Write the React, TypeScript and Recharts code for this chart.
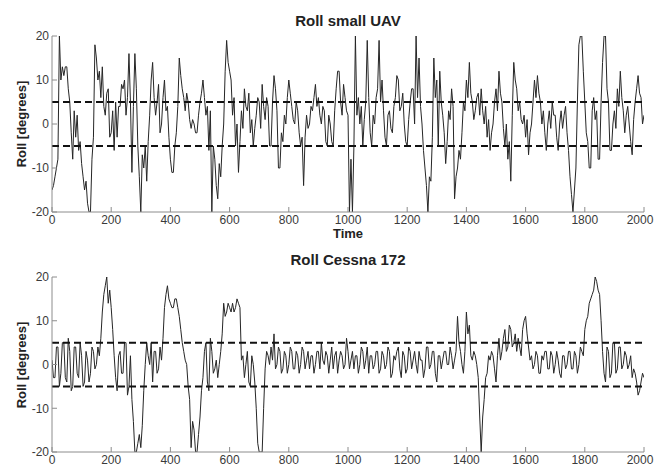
import React from 'react';
import { LineChart, Line, XAxis, YAxis, ReferenceLine } from 'recharts';

// sampling interval of the series (time units)
const STEP = 5;

// Roll of the small UAV, degrees, one value every STEP time units from 0 to 2000
const uavRoll = [
  -15, -14, -12, -10, -8, 20, 10, 13, 11, 13,
  13, 8, 5, -2, -8, 3, -3, 2, -6, -4,
  -9, -12, -15, -13, -18, -20, -20, -8, -3, 18,
  15, 10, 12, 6, 13, 4, 2, 7, 8, -3,
  -2, 3, -6, 5, -3, 4, 4, 9, 8, 10,
  2, 6, 16, 5, -11, 4, 16, 8, -5, -12,
  -20, -7, -10, -5, -13, -4, 2, 10, 14, 6,
  2, 5, 9, -2, 0, 6, 10, 3, 4, -3,
  -8, -11, -11, -5, -2, 4, 15, 11, 8, 6,
  3, 7, 5, 1, -1, 1, 0, -2, -2, 2,
  5, 7, 10, 6, 2, 4, -6, 3, -20, -5,
  -8, -14, -17, -9, -12, -5, 0, 12, 19, 14,
  12, 10, 2, 6, -5, 0, -11, -4, 3, -1,
  8, 4, 3, 7, -2, 1, -5, -1, 2, 6,
  5, -1, 9, 4, 1, 6, 4, -5, -5, 5,
  11, 8, 3, -10, -10, -2, -4, 2, 0, 6,
  10, 7, 4, 1, 0, 5, 3, -2, -5, -3,
  -14, -3, 2, -1, 0, 4, 3, 6, 9, 4,
  6, 2, 0, 4, 3, -4, -5, 2, 0, -4,
  -5, 3, 8, 12, 12, 5, 2, 9, 6, 3,
  2, -20, -8, -20, -5, 20, 2, 6, 0, 4,
  -5, 1, 5, 19, 6, -2, -5, 2, 0, 6,
  8, 19, 5, 10, 3, -3, -5, 2, 3, -1,
  -2, 4, 6, 11, 10, 3, 4, 7, 0, -4,
  -5, 1, 5, 8, 8, 0, 20, 6, 15, 4,
  0, -6, -10, -14, -20, -12, -13, -3, 15, 6,
  10, -5, 12, 5, 2, -2, -9, -4, 3, 1,
  8, 4, -17, -12, -10, -6, -8, -2, 5, 3,
  10, 6, 14, 7, 5, 1, 3, 6, 7, 2,
  8, 3, 0, 4, -3, 1, -6, -2, 0, 5,
  8, 3, 12, 7, 5, -1, -5, 0, -8, -4,
  -13, 2, 14, 10, 8, 3, 5, 1, 0, 2,
  -3, 1, -7, -2, 0, 5, 10, 6, 11, 7,
  5, 0, 3, -2, -6, 0, 3, -1, 5, 2,
  2, -3, -6, 0, 3, -1, 2, 4, -2, -6,
  -12, -16, -20, -15, -10, 5, 18, 20, 20, 12,
  5, -2, -4, -10, -10, 3, 6, 1, 3, -8,
  -8, 5, 14, 20, 20, 8, 5, -6, -6, 0,
  3, -1, 8, 4, 12, 6, 3, -2, 2, 4,
  0, -4, -7, 1, 5, 8, 11, 7, 6, 0,
  2,
];

// Roll of the Cessna 172, degrees, one value every STEP time units from 0 to 2000
const cessnaRoll = [
  1, -3, -3, 4, 4, -5, -2, 5, 5, -3,
  -4, 6, 3, -6, -5, 4, 4, -2, -3, 5,
  2, -5, -4, 3, 1, -4, -2, 4, 3, -1,
  0, 4, 2, 6, 12, 16, 18, 20, 14, 17,
  13, 8, 2, -3, -6, 2, 3, -2, -2, 5,
  5, -7, -5, 2, -8, -13, -20, -20, -18, -16,
  -19, -14, -6, 0, 5, 2, 0, 5, -4, 3,
  3, -2, -1, 4, 1, 6, 13, 16, 18, 15,
  14, 13, 13, 15, 15, 13, 11, 8, 5, 3,
  1, 0, -5, -8, -19, -13, -15, -20, -20, -16,
  -12, -6, -3, 3, 5, -4, -6, 6, 3, -2,
  -1, 1, -3, 0, 3, 7, 14, 11, 12, 14,
  13, 12, 14, 12, 13, 15, 14, 13, 1, 2,
  -3, 0, 3, -4, -5, 2, 0, -4, -10, -18,
  -20, -20, -20, -10, -1, 3, 2, 0, 4, 1,
  7, -1, 0, 4, 3, -2, -1, 3, 2, -2,
  0, 4, 3, -1, -1, 3, 2, -2, 0, 4,
  3, -1, 1, 3, -1, 2, 2, -2, 0, 3,
  3, -1, 5, 1, 0, 3, 2, -2, 1, 4,
  -1, 2, 3, -2, 1, 3, 2, -1, 0, 6,
  3, -1, 1, 3, -1, 2, 2, -2, 0, 4,
  3, -1, 1, 4, -2, 2, 2, -1, 0, 3,
  3, -2, -1, 3, 2, -1, 0, 4, 3, -3,
  -2, 2, 1, 3, 4, -1, -3, 3, 2, -2,
  -1, 4, 3, -1, 1, 3, 0, -2, 3, 1,
  1, -3, -1, 4, 4, -1, 0, 3, 3, -2,
  -4, 2, 2, -1, 1, 3, 3, 0, 0, 4,
  2, -1, 1, 3, 11, 5, 3, 0, -2, 3,
  12, 7, 9, 2, 1, 3, 2, 0, -3, -12,
  -20, -12, -8, -3, -2, 2, 1, 3, 2, -1,
  -4, 2, 6, 1, 3, 6, 8, 3, 4, 9,
  8, 4, 5, 7, 3, 6, 4, 2, 8, 10,
  11, 7, 4, 1, 2, -1, 0, 3, 2, -2,
  -2, 2, 1, 3, 3, -1, -1, 3, 2, -2,
  0, 3, 1, -2, -3, 2, 2, -1, 0, 3,
  3, -1, -1, 3, 2, -2, 0, 4, 3, 2,
  8, 10, 11, 14, 15, 16, 17, 20, 19, 17,
  16, 10, 3, -2, -4, 4, 3, -3, -2, 5,
  5, -2, -1, 4, 4, -1, 0, 3, 2, -1,
  0, 2, -3, -1, -2, -4, -7, -6, -4, -2,
  -3,
];

const xTicks = [0, 200, 400, 600, 800, 1000, 1200, 1400, 1600, 1800, 2000];
const yTicks = [-20, -10, 0, 10, 20];
const thresholds = [5, -5];

const FONT = '"Liberation Sans", Arial, Helvetica, sans-serif';
const AXIS_GRAY = '#8c8c8c';
const TICK_STYLE = { fill: '#3a3a3a', fontSize: 12, fontFamily: FONT };

function XTick(props: any) {
  const { x, y, payload, index, visibleTicksCount } = props;
  const last = index === visibleTicksCount - 1;
  return (
    <text
      x={last ? x - 4 : x}
      y={y}
      dy="0.71em"
      textAnchor="middle"
      fill={TICK_STYLE.fill}
      fontSize={TICK_STYLE.fontSize}
      fontFamily={FONT}
    >
      {payload.value}
    </text>
  );
}

type PanelProps = {
  title: string;
  values: number[];
  top: number;
  height: number;
  marginTop: number;
  xAxisHeight: number;
  titleTop: number;
  xLabel?: string;
};

function Panel({ title, values, top, height, marginTop, xAxisHeight, titleTop, xLabel }: PanelProps) {
  const data = values.map((v, i) => ({ t: i * STEP, roll: v }));
  const plotTop = marginTop;
  const plotBottom = height - xAxisHeight;
  return (
    <div style={{ position: 'absolute', left: 0, top, width: 655, height }}>
      <LineChart width={655} height={height} data={data} margin={{ top: marginTop, right: 11, bottom: 0, left: 0 }}>
        <XAxis
          xAxisId="b"
          dataKey="t"
          type="number"
          domain={[0, 2000]}
          ticks={xTicks}
          interval={0}
          allowDataOverflow
          height={xAxisHeight}
          tickSize={-5}
          tickMargin={8}
          stroke={AXIS_GRAY}
          tick={<XTick />}
        />
        <XAxis
          xAxisId="t"
          orientation="top"
          dataKey="t"
          type="number"
          domain={[0, 2000]}
          ticks={xTicks}
          interval={0}
          height={0}
          tickSize={-5}
          tick={false}
          stroke={AXIS_GRAY}
        />
        <YAxis
          yAxisId="l"
          type="number"
          domain={[-20, 20]}
          ticks={yTicks}
          interval={0}
          allowDataOverflow
          width={52}
          tickSize={-5}
          tickMargin={8}
          stroke={AXIS_GRAY}
          tick={TICK_STYLE}
        />
        <YAxis
          yAxisId="r"
          orientation="right"
          type="number"
          domain={[-20, 20]}
          ticks={yTicks}
          interval={0}
          width={0}
          tickSize={-5}
          tick={false}
          stroke={AXIS_GRAY}
        />
        <Line
          xAxisId="b"
          yAxisId="l"
          type="linear"
          dataKey="roll"
          stroke="#262626"
          strokeWidth={1}
          dot={false}
          isAnimationActive={false}
        />
        {thresholds.map((v) => (
          <ReferenceLine
            key={v}
            xAxisId="b"
            yAxisId="l"
            y={v}
            stroke="#111"
            strokeWidth={2}
            strokeDasharray="7 4"
          />
        ))}
      </LineChart>
      <div
        style={{
          position: 'absolute',
          left: 52,
          width: 592,
          top: titleTop,
          textAlign: 'center',
          fontFamily: FONT,
          fontWeight: 'bold',
          fontSize: 15,
          lineHeight: '17px',
          color: '#222',
        }}
      >
        {title}
      </div>
      <div
        style={{
          position: 'absolute',
          left: 22 - 60,
          top: (plotTop + plotBottom) / 2 - 8,
          width: 120,
          height: 16,
          lineHeight: '16px',
          textAlign: 'center',
          transform: 'rotate(-90deg)',
          fontFamily: FONT,
          fontWeight: 'bold',
          fontSize: 13,
          color: '#222',
        }}
      >
        Roll [degrees]
      </div>
      {xLabel ? (
        <div
          style={{
            position: 'absolute',
            left: 52,
            width: 592,
            top: 226,
            textAlign: 'center',
            fontFamily: FONT,
            fontWeight: 'bold',
            fontSize: 13,
            lineHeight: '16px',
            color: '#222',
          }}
        >
          {xLabel}
        </div>
      ) : null}
    </div>
  );
}

export default function App() {
  return (
    <div style={{ position: 'absolute', left: 0, top: 0, width: 655, height: 468, background: '#fff', overflow: 'hidden' }}>
      <Panel title="Roll small UAV" values={uavRoll} top={0} height={245} marginTop={36} xAxisHeight={33} titleTop={12} xLabel="Time" />
      <Panel title="Roll Cessna 172" values={cessnaRoll} top={245} height={223} marginTop={32} xAxisHeight={16} titleTop={6} />
    </div>
  );
}
